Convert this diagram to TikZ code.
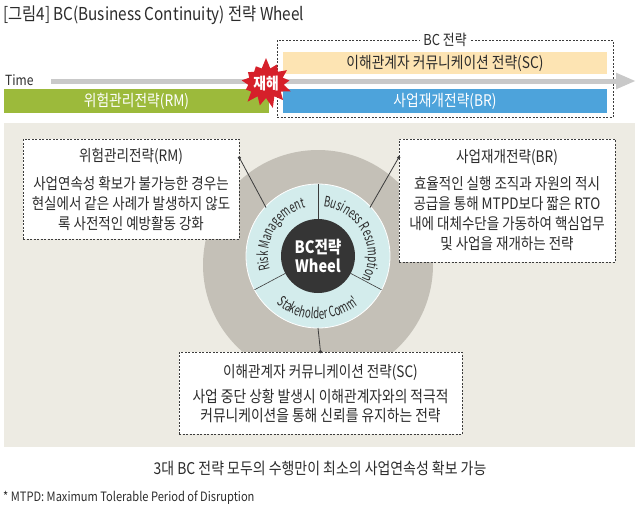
\documentclass[tikz,border=0pt]{standalone}
\usepackage{fontspec}
\setmainfont{Noto Sans CJK KR}[FakeStretch=0.86]
\newfontfamily\ringfont{Noto Sans CJK KR}[FakeStretch=0.67]
\usetikzlibrary{arrows.meta,positioning,shapes.symbols,decorations.text}

\definecolor{panelbg}{HTML}{EDEBE3}
\definecolor{wheelgray}{HTML}{C4C0B7}
\definecolor{ringblue}{HTML}{D3ECEC}
\definecolor{coredark}{HTML}{353535}
\definecolor{rmgreen}{HTML}{9CBA3B}
\definecolor{brblue}{HTML}{4DA3DB}
\definecolor{scpeach}{HTML}{FDE4B3}
\definecolor{burstred}{HTML}{D6202A}
\definecolor{timegray}{HTML}{C9C9C9}
\definecolor{linegray}{HTML}{3C3C3C}
\definecolor{txt}{HTML}{2B2B2B}

\begin{document}
\begin{tikzpicture}[
  x=1pt, y=1pt,
  font=\fontsize{15.7}{20}\selectfont, text=txt,
  bar/.style={inner sep=0pt, text=white, minimum height=24pt, font=\fontsize{16}{18}\selectfont},
  dashbox/.style={draw=linegray, line width=0.7pt, dash pattern=on 2pt off 1.5pt},
  callout/.style={dashbox, fill=white, inner sep=0pt},
  ctitle/.style={inner sep=0pt, font=\fontsize{15.8}{18}\selectfont},
  cbody/.style={inner sep=0pt, align=center},
  dot/.style={circle, fill=linegray, inner sep=0pt, minimum size=3.5pt},
  conn/.style={draw=linegray, line width=0.8pt},
  ringtext/.style={decorate, decoration={text along path, text align=center, text color=txt}},
  arr/.style={-{Triangle[length=20pt, width=15pt]}, line width=5pt, draw=timegray}
]
  \useasboundingbox (0,0) rectangle (640,-509);

  \node[anchor=west, inner sep=0pt, font=\fontsize{17.8}{20}\selectfont] (title) at (3,-15) {[그림4] BC(Business Continuity) 전략 Wheel};

  \node[dashbox, minimum width=336pt, minimum height=77pt] (bcbox) at (445,-78.5) {};
  \node[fill=white, inner sep=3pt, font=\fontsize{15}{18}\selectfont] (bclabel) at (bcbox.north) {BC 전략};
  \node[bar, fill=scpeach, text=txt, minimum width=324pt, minimum height=22pt] (scbar) at (445,-63) {이해관계자 커뮤니케이션 전략(SC)};
  \node[anchor=west, inner sep=0pt, font=\fontsize{14}{16}\selectfont] (time) at (5,-80) {Time};
  \coordinate (tstart) at (51,-81);
  \coordinate (tend) at (636,-81);
  \draw[arr] (tstart) -- (tend);
  \node[bar, fill=rmgreen, minimum width=265pt] (rmbar) at (136.5,-101) {위험관리전략(RM)};
  \node[bar, fill=brblue, minimum width=324pt] (brbar) at (445,-101) {사업재개전략(BR)};
  \node[starburst, starburst points=13, starburst point height=11pt, random starburst=7,
        fill=burstred, text=white, inner sep=0pt, minimum width=56pt, minimum height=52pt,
        font=\fontsize{16}{18}\selectfont\bfseries] (burst) at (266,-83) {재해};

  \fill[panelbg] (4,-123) rectangle (635,-447);
  \fill[wheelgray] (318,-265) circle (115);
  \coordinate (wheel) at (318,-256);
  \fill[ringblue, draw=white, line width=0.8pt] (wheel) circle (72);
  \foreach \a in {90,208,332}
    \draw[linegray, line width=0.6pt] (wheel) ++(\a:37) -- ++(\a:35);
  \node[circle, fill=coredark, minimum size=74pt, inner sep=0pt, text=white, align=center,
        font=\fontsize{17}{19}\selectfont\bfseries] (core) at (wheel) {BC전략\\Wheel};

  \path[ringtext, decoration={text={|\ringfont\fontsize{14.5}{15}\selectfont|Risk Management}}]
    (wheel) ++(207:50) arc[start angle=207, end angle=93, radius=50];
  \path[ringtext, decoration={text={|\ringfont\fontsize{14.5}{15}\selectfont|Business Resumption}}]
    (wheel) ++(88:50) arc[start angle=88, end angle=-32, radius=50];
  \path[ringtext, decoration={text={|\ringfont\fontsize{14.5}{15}\selectfont|Stakeholder Comm'}}]
    (wheel) ++(214:63) arc[start angle=214, end angle=326, radius=63];

  \node[callout, minimum width=216pt, minimum height=100pt] (rmbox) at (131,-189) {};
  \node[ctitle, below=9pt of rmbox.north] (rmtitle) {위험관리전략(RM)};
  \node[cbody, below=12pt of rmtitle] (rmtext) {사업연속성 확보가 불가능한 경우는\\현실에서 같은 사례가 발생하지 않도\\록 사전적인 예방활동 강화};

  \node[callout, minimum width=216pt, minimum height=123pt] (brbox) at (507,-200.5) {};
  \node[ctitle, below=11pt of brbox.north] (brtitle) {사업재개전략(BR)};
  \node[cbody, below=10pt of brtitle] (brtext) {효율적인 실행 조직과 자원의 적시\\공급을 통해 MTPD보다 짧은 RTO\\내에 대체수단을 가동하여 핵심업무\\및 사업을 재개하는 전략};

  \node[callout, minimum width=283pt, minimum height=82pt] (scbox) at (320.5,-393) {};
  \node[ctitle, below=13pt of scbox.north] (sctitle) {이해관계자 커뮤니케이션 전략(SC)};
  \node[cbody, below=8pt of sctitle, font=\fontsize{16}{19}\selectfont] (sctext) {사업 중단 상황 발생시 이해관계자와의 적극적\\커뮤니케이션을 통해 신뢰를 유지하는 전략};

  \node[dot] (rmdot) at ([yshift=-19pt]rmbox.north east) {};
  \node[dot] (brdot) at ([yshift=-19pt]brbox.north west) {};
  \node[dot] (scdot) at (scbox.north) {};
  \path (wheel) ++(137:71) coordinate (rmend);
  \path (wheel) ++(43:71) coordinate (brend);
  \path (wheel) ++(270:72) coordinate (scend);
  \draw[conn] (rmdot.center) -- (rmend);
  \draw[conn] (brdot.center) -- (brend);
  \draw[conn] (scdot.center) -- (scend);

  \node[font=\fontsize{16.2}{18}\selectfont] (summary) at (320,-468) {3대 BC 전략 모두의 수행만이 최소의 사업연속성 확보 가능};
  \node[anchor=west, inner sep=0pt, font=\fontsize{12.9}{14}\selectfont] (note) at (3,-498) {* MTPD: Maximum Tolerable Period of Disruption};
\end{tikzpicture}
\end{document}
